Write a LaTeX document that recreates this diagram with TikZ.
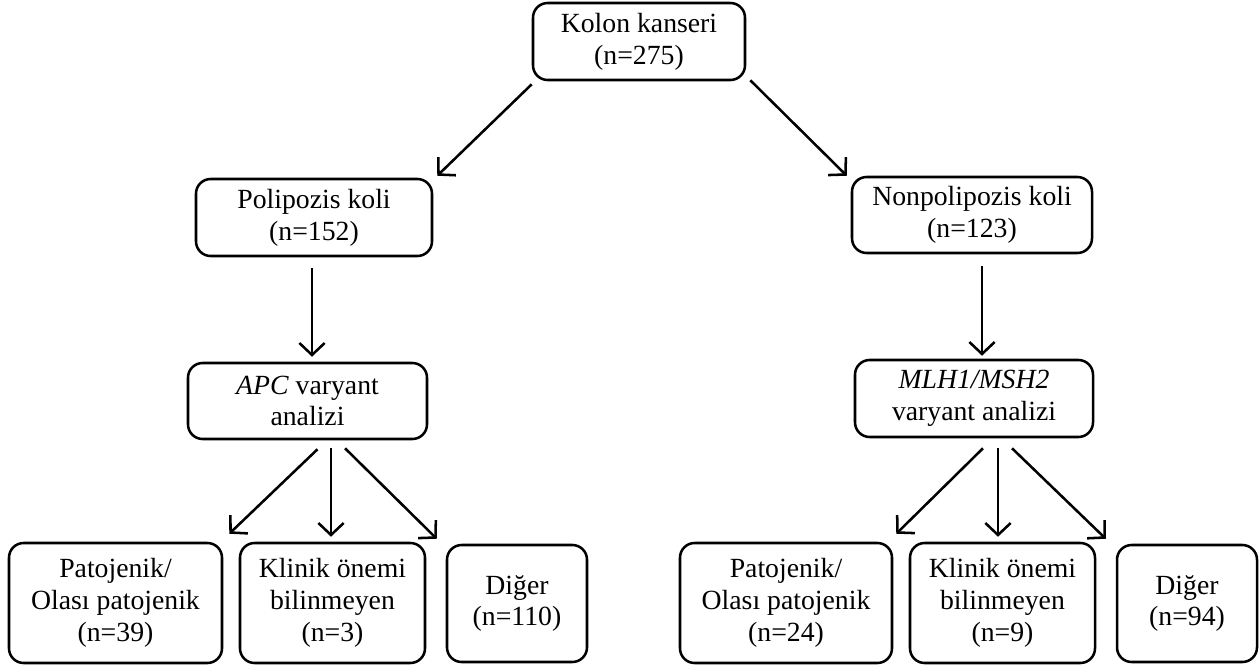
\documentclass[tikz,border=0pt]{standalone}
\usepackage{fontspec}
\setmainfont{Liberation Serif}
\usetikzlibrary{arrows.meta,calc}
\tikzset{
  box/.style={draw, line width=1.9pt, rounded corners=11pt, align=center, inner sep=0pt,
    font=\fontsize{20.8}{23.8}\selectfont},
  sz/.style 2 args={minimum width=#1*0.75pt, minimum height=#2*0.75pt},
  arr/.style={line width=1.9pt, -{Straight Barb[length=9pt,width=19pt]}},
}
\begin{document}
\begin{tikzpicture}[x=0.75pt,y=-0.75pt]
\useasboundingbox (0,0) rectangle (1259,667);
\node[box,sz={212}{77}] (kolon) at (639,41.5) {Kolon kanseri\\(n=275)};
\node[box,sz={236}{77}] (poli) at (314,217.5) {Polipozis koli\\(n=152)};
\node[box,sz={240}{76}] (nonpoli) at (972,215) {Nonpolipozis koli\\(n=123)};
\node[box,sz={239}{76}] (apc) at (307.5,401) {\textit{APC} varyant\\analizi};
\node[box,sz={238}{77}] (mlh) at (974,398.5) {\textit{MLH1/MSH2}\\varyant analizi};
\node[box,sz={213}{120}] (l1) at (115.5,603) {Patojenik/\\Olası patojenik\\(n=39)};
\node[box,sz={185}{120}] (l2) at (332.5,603) {Klinik önemi\\bilinmeyen\\(n=3)};
\node[box,sz={140}{117}] (l3) at (517,603.5) {Diğer\\(n=110)};
\node[box,sz={212}{120}] (r1) at (786,603) {Patojenik/\\Olası patojenik\\(n=24)};
\node[box,sz={185}{120}] (r2) at (1002.5,603) {Klinik önemi\\bilinmeyen\\(n=9)};
\node[box,sz={140}{117}] (r3) at (1187,603.5) {Diğer\\(n=94)};

\draw[arr] ($(kolon.south west)+(0,3)$) -- ($(poli.north east)+(4,-2)$);
\draw[arr] ($(kolon.south east)+(4,-1)$) -- ($(nonpoli.north west)+(-4,0)$);
\draw[arr] ($(poli.south)+(-2,11)$) -- ($(apc.north)+(4.5,-5)$);
\draw[arr] ($(nonpoli.south)+(10,12)$) -- ($(mlh.north)+(8,-3)$);
\draw[arr] ($(apc.south)+(10,9)$) -- ($(l1.north east)+(6,-8)$);
\draw[arr] ($(apc.south)+(23.5,8)$) -- ($(l2.north)+(-1.5,-5)$);
\draw[arr] ($(apc.south)+(37.5,8)$) -- ($(l3.north west)+(-9,-5)$);
\draw[arr] ($(mlh.south)+(9,10)$) -- ($(r1.north east)+(3,-8)$);
\draw[arr] ($(mlh.south)+(24,10)$) -- ($(r2.north)+(-4.5,-5)$);
\draw[arr] ($(mlh.south)+(38,10)$) -- ($(r3.north west)+(-10,-5)$);
\end{tikzpicture}
\end{document}
